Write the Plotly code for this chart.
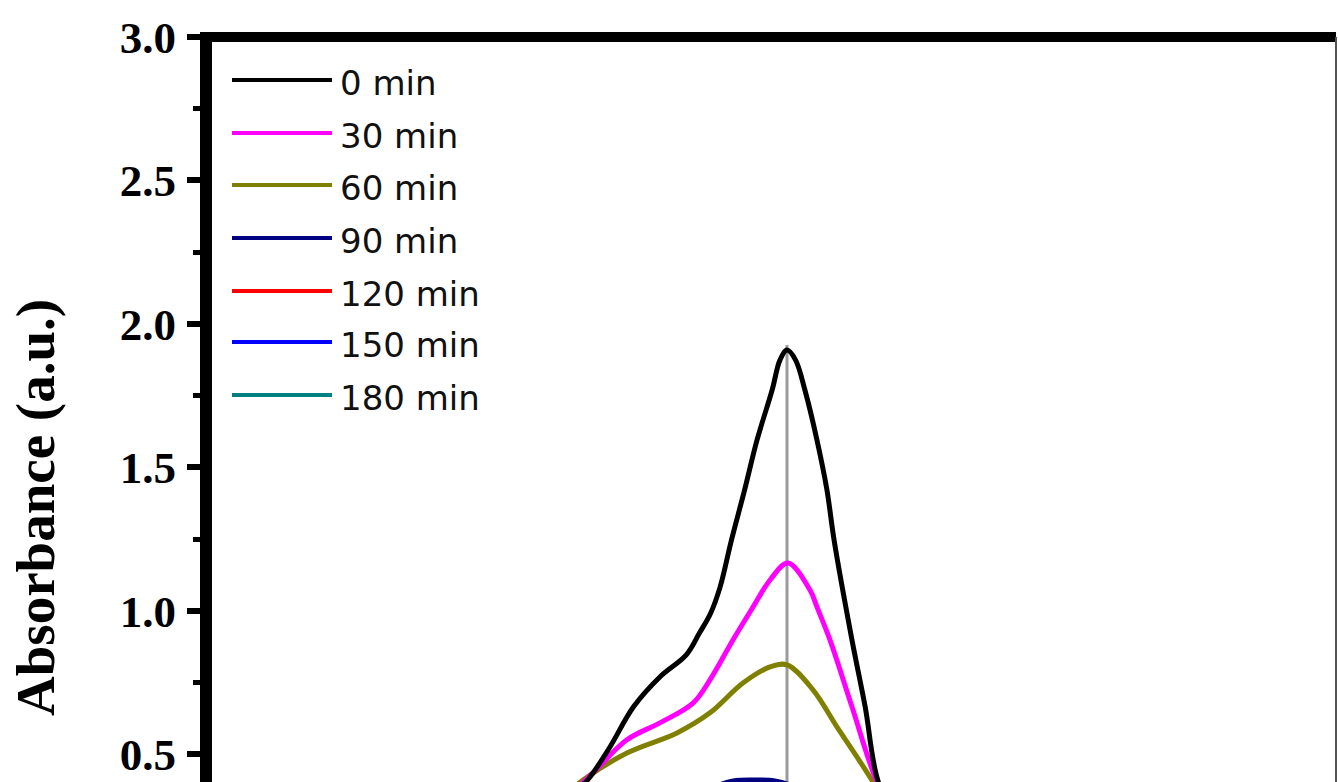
import plotly.graph_objects as go

# UV-vis absorption spectra recorded during degradation (wavelength in nm)
series_names = ["0 min", "30 min", "60 min", "90 min", "120 min", "150 min", "180 min"]
series_colors = ["#000000", "#FF00FF", "#808000", "#000080", "#FF0000", "#0000FF", "#008080"]

wl_0 = [540, 557, 560, 570.5, 583, 597, 611, 618, 624, 629, 635, 642, 648.6, 656.6, 660.8,
        664.5, 669, 674, 680.4, 685.7, 689.5, 699, 706, 713, 725]
abs_0 = [0.28, 0.40, 0.422, 0.526, 0.666, 0.770, 0.847, 0.923, 0.993, 1.084, 1.247, 1.422, 1.596,
         1.770, 1.875, 1.909, 1.875, 1.770, 1.596, 1.422, 1.247, 0.899, 0.666, 0.404, 0.25]

wl_30 = [540, 561.5, 579.5, 597, 614.6, 623.6, 635.8, 646.5, 655.5, 665, 676.7, 680.4,
         687.3, 699, 712.3, 725]
abs_30 = [0.30, 0.436, 0.551, 0.610, 0.679, 0.760, 0.899, 1.014, 1.108, 1.167, 1.073, 1.014,
          0.899, 0.666, 0.404, 0.25]

wl_60 = [540, 556.2, 579.5, 606.1, 623.6, 641.1, 655.5, 664.5, 678.3, 691, 701.7, 710.2, 722]
abs_60 = [0.32, 0.411, 0.505, 0.575, 0.645, 0.749, 0.805, 0.812, 0.725, 0.596, 0.491, 0.404, 0.28]

wl_90 = [540, 600, 625, 636, 648, 658, 665, 685, 710]
abs_90 = [0.20, 0.32, 0.385, 0.408, 0.411, 0.408, 0.396, 0.32, 0.18]

wl_120 = [540, 600, 630, 645, 664, 680, 700, 725]
abs_120 = [0.15, 0.23, 0.28, 0.30, 0.31, 0.27, 0.18, 0.09]

wl_150 = [540, 600, 630, 645, 664, 680, 700, 725]
abs_150 = [0.11, 0.17, 0.20, 0.22, 0.23, 0.20, 0.13, 0.07]

wl_180 = [540, 600, 630, 645, 664, 680, 700, 725]
abs_180 = [0.08, 0.12, 0.14, 0.15, 0.16, 0.14, 0.09, 0.05]

wavelengths = [wl_0, wl_30, wl_60, wl_90, wl_120, wl_150, wl_180]
absorbances = [abs_0, abs_30, abs_60, abs_90, abs_120, abs_150, abs_180]

peak_wavelength = 664.5
peak_marker_top = 1.927

y_range = [0.404, 3.0]
x_range = [356, 956]
y_ticks = [0.5, 1.0, 1.5, 2.0, 2.5, 3.0]
y_tick_text = ["0.5", "1.0", "1.5", "2.0", "2.5", "3.0"]

serif = "Liberation Serif, Times New Roman, serif"
sans = "DejaVu Sans, Arial, sans-serif"

fig = go.Figure()

# Vertical marker at the absorption maximum
fig.add_trace(go.Scatter(
    x=[peak_wavelength, peak_wavelength], y=[0.0, peak_marker_top],
    mode="lines", line=dict(color="#9a9a9a", width=3),
    showlegend=False, hoverinfo="skip",
))

# Draw later spectra first so the strongest ones lie on top
for name, color, wl, ab in reversed(list(zip(series_names, series_colors, wavelengths, absorbances))):
    fig.add_trace(go.Scatter(
        x=wl, y=ab, name=name, mode="lines",
        line=dict(color=color, width=5, shape="spline", smoothing=1.0),
        showlegend=False,
    ))

W, H = 1338, 782
L, R, T, B = 206, 2, 37, 0
plot_w = W - L - R
plot_h = H - T - B

def px_to_paper_x(px):
    return (px - L) / plot_w

def px_to_paper_y(py):
    return (H - B - py) / plot_h

shapes = [
    # frame: heavy left and top lines, thin right edge
    dict(type="line", xref="paper", yref="paper", x0=0, x1=0, y0=-0.01, y1=1.0,
         line=dict(color="#000000", width=12), layer="above"),
    dict(type="line", xref="paper", yref="paper", x0=px_to_paper_x(200), x1=1.0, y0=1.0, y1=1.0,
         line=dict(color="#000000", width=10), layer="above"),
    dict(type="line", xref="paper", yref="paper", x0=1.0, x1=1.0, y0=-0.01, y1=1.0,
         line=dict(color="#555555", width=2), layer="above"),
]

annotations = []
legend_y_px = [80, 133, 185, 238, 291, 342, 395]
for name, color, ly in zip(series_names, series_colors, legend_y_px):
    shapes.append(dict(type="line", xref="paper", yref="paper",
                       x0=px_to_paper_x(232), x1=px_to_paper_x(332),
                       y0=px_to_paper_y(ly), y1=px_to_paper_y(ly),
                       line=dict(color=color, width=4)))
    annotations.append(dict(xref="paper", yref="paper", x=px_to_paper_x(338), y=px_to_paper_y(ly + 3),
                            text=name, showarrow=False, xanchor="left", yanchor="middle",
                            font=dict(family=sans, size=34, color="#111111")))

annotations.append(dict(
    xref="paper", yref="paper", x=px_to_paper_x(36), y=px_to_paper_y(508),
    text="Absorbance (a.u.)", showarrow=False, textangle=-90,
    xanchor="center", yanchor="middle",
    font=dict(family=serif, size=55, color="#000000", weight="bold"),
))

fig.update_layout(
    width=W, height=H,
    margin=dict(l=L, r=R, t=T, b=B, pad=0),
    paper_bgcolor="white", plot_bgcolor="white",
    showlegend=False,
    shapes=shapes, annotations=annotations,
    xaxis=dict(range=x_range, visible=False, showgrid=False, zeroline=False),
    yaxis=dict(
        range=y_range, tickvals=y_ticks, ticktext=y_tick_text,
        ticks="outside", ticklen=18, tickwidth=6, tickcolor="#000000",
        ticklabelstandoff=2,
        tickfont=dict(family=serif, size=45, color="#000000", weight="bold"),
        showgrid=False, zeroline=False, showline=False,
        minor=dict(dtick=0.25, tick0=0, ticks="outside", ticklen=12, tickwidth=5,
                   tickcolor="#000000", showgrid=False),
    ),
)

fig.write_html("out.html")
